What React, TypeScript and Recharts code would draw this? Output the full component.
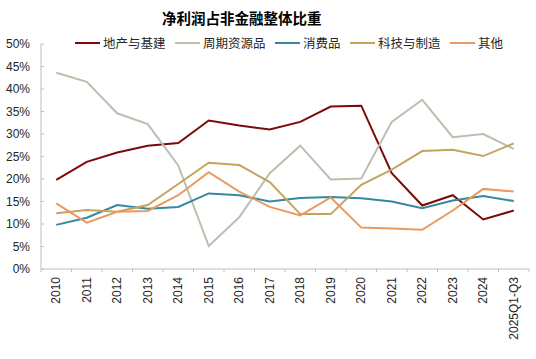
import React from "react";
import { LineChart, Line, XAxis, YAxis } from "recharts";

const CATEGORIES = [
  "2010", "2011", "2012", "2013", "2014", "2015", "2016", "2017",
  "2018", "2019", "2020", "2021", "2022", "2023", "2024", "2025Q1-Q3",
];

const PROPERTY_INFRA = [19.8, 23.8, 25.9, 27.4, 28.0, 33.0, 31.9, 31.0, 32.7, 36.1, 36.3, 21.3, 14.1, 16.4, 11.0, 13.0];
const CYCLICAL = [43.6, 41.6, 34.6, 32.2, 23.0, 5.1, 11.5, 21.3, 27.4, 19.9, 20.1, 32.7, 37.6, 29.3, 30.0, 26.7];
const CONSUMER = [9.8, 11.4, 14.2, 13.4, 13.8, 16.8, 16.4, 15.0, 15.8, 16.0, 15.7, 15.0, 13.5, 15.2, 16.2, 15.1];
const TECH_MFG = [12.4, 13.1, 12.7, 14.2, 18.9, 23.6, 23.1, 19.3, 12.2, 12.2, 18.7, 22.1, 26.2, 26.5, 25.1, 27.9];
const OTHER = [14.6, 10.3, 12.7, 12.9, 16.4, 21.5, 17.2, 13.8, 11.9, 15.9, 9.2, 9.0, 8.7, 13.0, 17.8, 17.2];

const Y_TICKS = [0, 5, 10, 15, 20, 25, 30, 35, 40, 45, 50];

const SERIES = [
  { key: "property", name: "地产与基建", color: "#7B0A0A", values: PROPERTY_INFRA },
  { key: "cyclical", name: "周期资源品", color: "#BEBEAF", values: CYCLICAL },
  { key: "consumer", name: "消费品", color: "#35889D", values: CONSUMER },
  { key: "tech", name: "科技与制造", color: "#C4A35F", values: TECH_MFG },
  { key: "other", name: "其他", color: "#EA9A60", values: OTHER },
];

const data = CATEGORIES.map((cat, i) => {
  const row: Record<string, string | number> = { cat };
  SERIES.forEach((s) => { row[s.key] = s.values[i]; });
  return row;
});

const AXIS_COLOR = "#BFBFBF";
const TEXT_COLOR = "#262626";
const FONT = "'Liberation Sans', Arial, 'Noto Sans CJK SC', sans-serif";
const HALF_BAND = 15.25;

function YTick(props: any) {
  const { x, y, payload } = props;
  return (
    <g>
      <line x1={x} x2={x + 3} y1={y} y2={y} stroke={AXIS_COLOR} />
      <text x={x - 11} y={y} dy={4} textAnchor="end" fontSize={12} fill={TEXT_COLOR} fontFamily={FONT}>
        {payload.value}%
      </text>
    </g>
  );
}

function XTick(props: any) {
  const { x, y, payload, index } = props;
  const last = index === CATEGORIES.length - 1;
  return (
    <g>
      <line x1={x - HALF_BAND} x2={x - HALF_BAND} y1={y} y2={y + 3} stroke={AXIS_COLOR} />
      {last && <line x1={x + HALF_BAND} x2={x + HALF_BAND} y1={y} y2={y + 3} stroke={AXIS_COLOR} />}
      <text
        x={x + 4}
        y={y + 8}
        transform={`rotate(-90, ${x + 4}, ${y + 8})`}
        textAnchor="end"
        fontSize={12}
        fill={TEXT_COLOR}
        fontFamily={FONT}
      >
        {payload.value}
      </text>
    </g>
  );
}

export default function App() {
  return (
    <div style={{ position: "absolute", left: 0, top: 0, width: 536, height: 359, background: "#fff", fontFamily: FONT }}>
      <div
        style={{
          position: "absolute", left: 162, top: 10, fontSize: 14.5, lineHeight: "16px",
          fontWeight: "bold", color: "#000", whiteSpace: "nowrap",
          fontFamily: "'Noto Sans CJK SC', sans-serif",
        }}
      >
        净利润占非金融整体比重
      </div>
      <div
        style={{
          position: "absolute", left: 75, top: 35, display: "flex", alignItems: "center",
          gap: 9.5, fontSize: 12.5, lineHeight: "16px", color: TEXT_COLOR, whiteSpace: "nowrap",
          fontFamily: "'Noto Sans CJK SC', sans-serif", zIndex: 2,
        }}
      >
        {SERIES.map((s) => (
          <div key={s.key} style={{ display: "flex", alignItems: "center" }}>
            <span style={{ display: "inline-block", width: 25, height: 2, background: s.color, marginRight: 3 }} />
            <span>{s.name}</span>
          </div>
        ))}
      </div>
      <LineChart width={536} height={359} data={data} margin={{ top: 44, right: 7, left: 0, bottom: 5 }}>
        <XAxis
          dataKey="cat"
          height={85}
          interval={0}
          padding={{ left: HALF_BAND, right: HALF_BAND }}
          axisLine={{ stroke: AXIS_COLOR }}
          tickLine={false}
          tickSize={0}
          tickMargin={0}
          tick={<XTick />}
        />
        <YAxis
          width={41}
          domain={[0, 50]}
          ticks={Y_TICKS}
          interval={0}
          axisLine={{ stroke: AXIS_COLOR }}
          tickLine={false}
          tickSize={0}
          tickMargin={0}
          tick={<YTick />}
        />
        {SERIES.map((s) => (
          <Line
            key={s.key}
            dataKey={s.key}
            name={s.name}
            stroke={s.color}
            strokeWidth={2}
            dot={false}
            activeDot={false}
            isAnimationActive={false}
          />
        ))}
      </LineChart>
    </div>
  );
}
